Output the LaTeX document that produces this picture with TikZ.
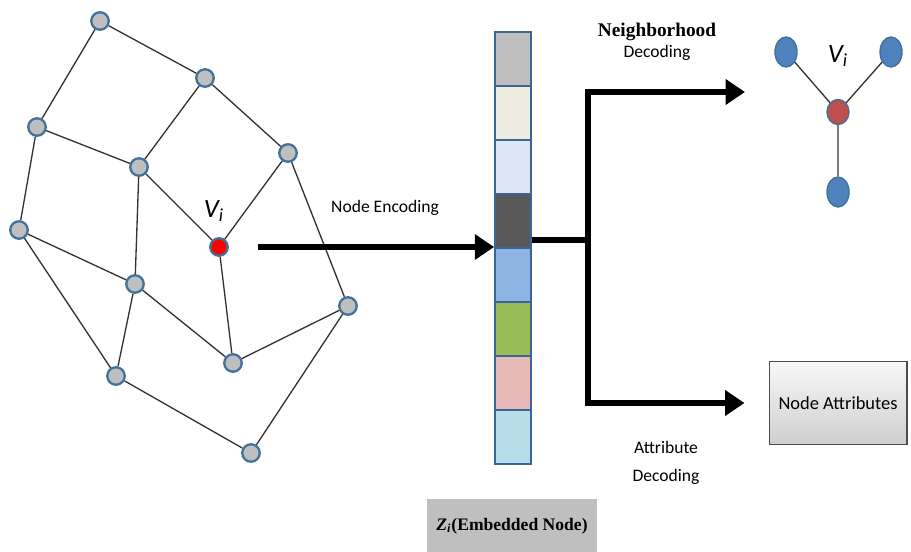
\documentclass[tikz,border=0pt]{standalone}
\usepackage{fontspec}
\setmainfont{Carlito}
\newfontfamily\timesbf{Liberation Serif}
\usetikzlibrary{arrows.meta,shapes.geometric}
\definecolor{cEdge} {RGB}{50,  50,  50}
\definecolor{cRim}  {RGB}{65, 113, 156}
\definecolor{cNode} {RGB}{191,191,191}
\definecolor{cHot}  {RGB}{255,  0,   0}
\definecolor{cBlue} {RGB}{79, 129, 189}
\definecolor{cBrick}{RGB}{192, 80,  77}
\definecolor{cCell} {RGB}{60, 100, 150}
\definecolor{cZa}   {RGB}{191,191,191}
\definecolor{cZb}   {RGB}{238,236,225}
\definecolor{cZc}   {RGB}{220,230,242}
\definecolor{cZd}   {RGB}{89,  89,  89}
\definecolor{cZe}   {RGB}{142,180,227}
\definecolor{cZf}   {RGB}{155,187,89}
\definecolor{cZg}   {RGB}{230,185,184}
\definecolor{cZh}   {RGB}{183,222,232}
\tikzset{
  gn/.style   = {circle, draw=cRim, line width=1.3pt, fill=cNode,
                 inner sep=0pt, minimum size=3.5mm},
  hot/.style  = {gn, fill=cHot},
  sn/.style   = {ellipse, draw=cRim, line width=0.8pt, fill=cBlue,
                 inner sep=0pt, minimum width=4.4mm, minimum height=6mm},
  snHot/.style= {sn, fill=cBrick, minimum height=5mm},
  E/.style    = {draw=cEdge, line width=0.75pt},
  cell/.style = {draw=cCell, line width=1pt, inner sep=0pt,
                 minimum width=7.2mm, minimum height=10.8mm},
  lbl/.style  = {font=\fontsize{10}{12}\selectfont, align=center},
  vlab/.style = {font=\fontsize{15}{15}\selectfont\itshape},
  A/.style    = {-{Triangle[length=11pt,width=14pt]}, line width=3.8pt},
  L/.style    = {line width=3.8pt},
  attrB/.style= {draw=gray!60!black, line width=0.6pt, top color=gray!6,
                 bottom color=gray!38, minimum width=27.6mm,
                 minimum height=16.6mm, font=\fontsize{10.5}{12}\selectfont},
  zB/.style   = {fill=cNode, minimum width=34.2mm, minimum height=11mm},
}

\begin{document}
\begin{tikzpicture}[x=0.02cm, y=-0.02cm]

\useasboundingbox (0,0) rectangle (911,551);

%% ─── input graph ─────────────────────────────────────────────────
\node[gn]  (g1)  at (100, 21)  {};
\node[gn]  (g2)  at (205, 78)  {};
\node[gn]  (g3)  at (37, 127)  {};
\node[gn]  (g4)  at (139,167)  {};
\node[gn]  (g5)  at (288,153)  {};
\node[gn]  (g6)  at (19, 230)  {};
\node[hot] (vi)  at (219,247)  {};
\node[gn]  (g7)  at (135,284)  {};
\node[gn]  (g8)  at (348,306)  {};
\node[gn]  (g9)  at (233,363)  {};
\node[gn]  (g10) at (116,376)  {};
\node[gn]  (g11) at (251,453)  {};

\draw[E] (g1)--(g2) (g1)--(g3) (g2)--(g4) (g2)--(g5)
         (g3)--(g4) (g3)--(g6) (g4)--(vi) (g4)--(g7)
         (g5)--(vi) (g5)--(g8) (g6)--(g7) (g6)--(g10)
         (vi)--(g9) (g7)--(g9) (g7)--(g10) (g8)--(g9)
         (g8)--(g11) (g10)--(g11);

\node[vlab] (viL) at (214,211) {V\textsubscript{i}};

%% ─── embedding column ───────────────────────────────────────────
\node[cell, fill=cZa] (z1) at (513, 59)  {};
\node[cell, fill=cZb] (z2) at (513,113)  {};
\node[cell, fill=cZc] (z3) at (513,167)  {};
\node[cell, fill=cZd] (z4) at (513,221)  {};
\node[cell, fill=cZe] (z5) at (513,275)  {};
\node[cell, fill=cZf] (z6) at (513,329)  {};
\node[cell, fill=cZg] (z7) at (513,383)  {};
\node[cell, fill=cZh] (z8) at (513,437)  {};

\node[zB] (zlab) at (512,526)
  {\timesbf\bfseries\fontsize{10}{12}\selectfont
   \textit{Z}\textsubscript{\textit{i}}(Embedded Node)};

%% ─── encoding ────────────────────────────────────────────────────
\node[lbl] (encL) at (385,208) {Node Encoding};
\draw[A, shorten <=0.58cm] (vi) -- (vi -| z4.west);

%% ─── decoding branches ───────────────────────────────────────────
\coordinate (br)   at (588,240);
\coordinate (nTip) at (745, 92);

\node[attrB] (attr) at (838,403) {Node Attributes};

\draw[L] (z4.east |- br) -- (br);
\draw[A] (br) |- (nTip);
\draw[A, shorten >=0.48cm] (br) |- (attr.west);

\node[lbl] (nbL) at (657,42)
  {{\timesbf\bfseries\fontsize{11}{12}\selectfont Neighborhood}\\Decoding};
\node[lbl] (atL) at (666,463) {Attribute\\[4pt]Decoding};

%% ─── neighbourhood of v_i ────────────────────────────────────────
\node[sn]    (na) at (786, 52) {};
\node[sn]    (nb) at (891, 52) {};
\node[snHot] (nc) at (838,112) {};
\node[sn]    (nd) at (838,192) {};

\draw[E] (na)--(nc) (nb)--(nc) (nc)--(nd);

\node[vlab] (vjL) at (838, 56) {V\textsubscript{i}};

\end{tikzpicture}
\end{document}
